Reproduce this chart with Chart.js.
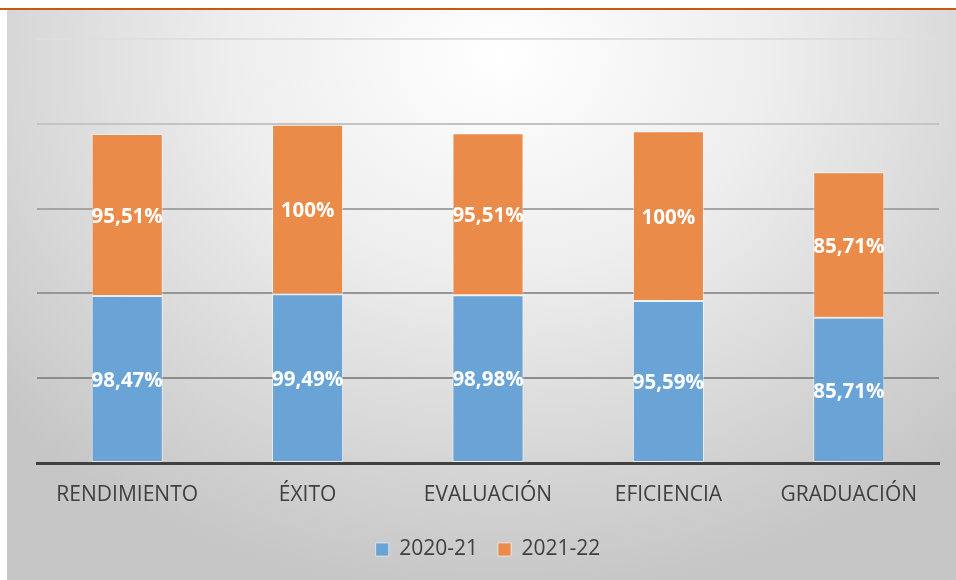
<!DOCTYPE html>
<html>
<head>
<meta charset="utf-8">
<script src="https://cdn.jsdelivr.net/npm/chart.js@4"></script>
<style>
	html, body {
		margin: 0;
		padding: 0;
		background: #ffffff;
	}
	#page {
		position: relative;
		width: 956px;
		height: 580px;
		overflow: hidden;
	}
	#topline {
		position: absolute;
		left: 0;
		top: 8px;
		width: 956px;
		height: 2px;
		background: #c55a11;
	}
	#panel {
		position: absolute;
		left: 7px;
		top: 10px;
		width: 949px;
		height: 570px;
		background: radial-gradient(ellipse 70% 95% at 52% 8%, #ffffff 0%, #eeeeee 40%, #d6d6d6 75%, #c6c6c6 100%);
	}
	#chart {
		position: absolute;
		left: 0;
		top: 0;
	}
</style>
</head>
<body>
<div id="page">
	<div id="topline"></div>
	<div id="panel"></div>
	<canvas id="chart" width="956" height="580"></canvas>
</div>
<script>
const categories = ["RENDIMIENTO", "ÉXITO", "EVALUACIÓN", "EFICIENCIA", "GRADUACIÓN"];
const seriesNames = ["2020-21", "2021-22"];
const values2021 = [98.47, 99.49, 98.98, 95.59, 85.71];
const values2122 = [95.51, 100, 95.51, 100, 85.71];
const yTicks = [0, 50, 100, 150, 200, 250];

const gridColors = {
	50: "#8c8c8c",
	100: "#969696",
	150: "#a4a4a4",
	200: "#c4c4c4",
	250: "#dedede"
};

const formatValue = v => String(v).replace(".", ",") + "%";

// draws the white value labels in the middle of every segment
const segmentLabels = {
	id: "segmentLabels",
	afterDatasetsDraw(chart) {
		const ctx = chart.ctx;
		ctx.save();
		ctx.fillStyle = "#ffffff";
		ctx.font = "bold 20.5px 'Open Sans'";
		ctx.textAlign = "center";
		ctx.textBaseline = "middle";
		chart.data.datasets.forEach((dataset, i) => {
			const meta = chart.getDatasetMeta(i);
			meta.data.forEach((bar, j) => {
				const y = (bar.y + bar.base) / 2;
				ctx.fillText(formatValue(dataset.data[j]), bar.x, y + 2);
			});
		});
		ctx.restore();
	}
};

const context = document.getElementById("chart").getContext("2d");
const chart = new Chart(context, {
	type: "bar",
	data: {
		labels: categories,
		datasets: [
			{
				label: seriesNames[0],
				data: values2021,
				backgroundColor: "#6aa3d5",
				borderColor: "rgba(255,255,255,0.55)",
				borderWidth: 1,
				borderSkipped: false
			},
			{
				label: seriesNames[1],
				data: values2122,
				backgroundColor: "#eb8b4a",
				borderColor: "rgba(255,255,255,0.55)",
				borderWidth: 1,
				borderSkipped: false
			}
		]
	},
	options: {
		responsive: false,
		animation: false,
		layout: {
			padding: { top: 39, left: 37, right: 17, bottom: 10 }
		},
		datasets: {
			bar: {
				barPercentage: 0.394,
				categoryPercentage: 1
			}
		},
		scales: {
			x: {
				stacked: true,
				grid: { display: false, drawTicks: false },
				border: { display: true, color: "#404040", width: 3 },
				ticks: {
					color: "#404040",
					font: { family: "'Open Sans'", size: 21 },
					padding: 19
				},
				afterFit: scale => { scale.height = 56; }
			},
			y: {
				stacked: true,
				min: 0,
				max: 250,
				afterBuildTicks: scale => {
					scale.ticks = yTicks.map(v => ({ value: v }));
				},
				ticks: { display: false },
				border: { display: false },
				grid: {
					drawTicks: false,
					lineWidth: 2,
					color: c => gridColors[c.tick.value] || "rgba(0,0,0,0)"
				},
				afterFit: scale => { scale.width = 0; }
			}
		},
		plugins: {
			legend: {
				position: "bottom",
				labels: {
					color: "#404040",
					font: { family: "'Open Sans'", size: 21 },
					boxWidth: 13,
					boxHeight: 13,
					padding: 20
				}
			},
			tooltip: { enabled: false }
		}
	},
	plugins: [segmentLabels]
});
</script>
</body>
</html>
